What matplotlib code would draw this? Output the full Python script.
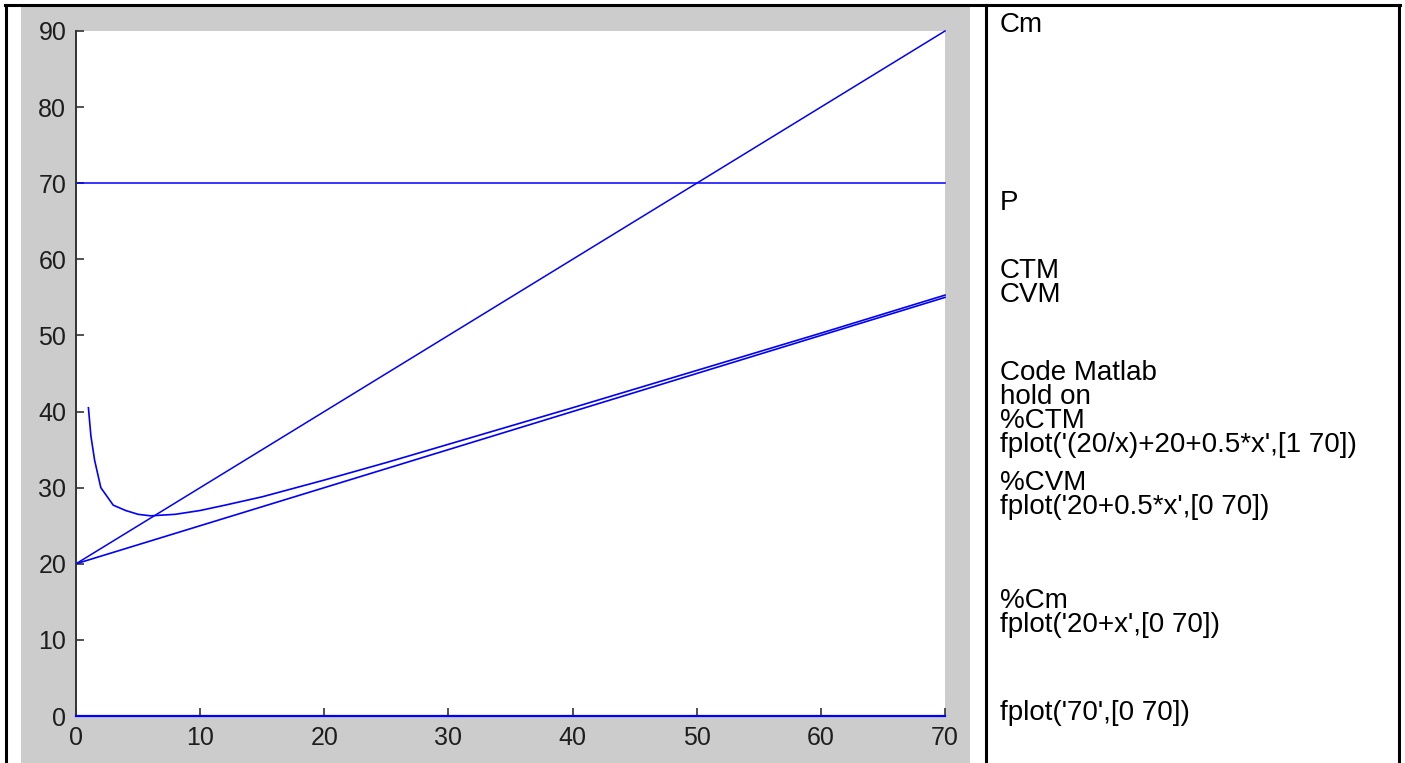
import numpy as np
import matplotlib.pyplot as plt
from matplotlib.patches import Rectangle
from matplotlib.lines import Line2D

# 数据：从图中读取
x_line = [0, 70]
cm_vals = [20, 90]          # Cm = 20 + x
p_vals = [70, 70]           # P = 70
cvm_vals = [20, 55]         # CVM = 20 + 0.5x
zero_vals = [0, 0]          # 底部的线

# CTM 曲线（fplot 采样点，读图估计）
ctm_x = [1, 1.2, 1.5, 2, 3, 4, 5, 6, 7, 8, 10, 12, 15, 20, 25, 30, 35, 40, 50, 60, 70]
ctm_y = [40.5, 36.8, 33.6, 30.0, 27.7, 27.0, 26.5, 26.3, 26.4, 26.5, 27.0, 27.7, 28.8,
         31.0, 33.3, 35.7, 38.1, 40.5, 45.4, 50.3, 55.3]

x_ticks = [0, 10, 20, 30, 40, 50, 60, 70]
y_ticks = [0, 10, 20, 30, 40, 50, 60, 70, 80, 90]

# 右侧文字
text_lines = ["Cm", "P", "CTM", "CVM", "Code Matlab", "hold on", "%CTM",
              "fplot('(20/x)+20+0.5*x',[1 70])", "%CVM", "fplot('20+0.5*x',[0 70])",
              "%Cm", "fplot('20+x',[0 70])", "fplot('70',[0 70])"]
text_y = [22, 200, 268, 292, 370, 394, 418, 442, 480, 504, 598, 622, 710]

W, H = 1405, 763
fig = plt.figure(figsize=(W / 100, H / 100), dpi=100, facecolor='white')


def fx(px):
    return px / W


def fy(py):
    return 1 - py / H


# 灰色背景（MATLAB 窗口）
fig.patches.append(Rectangle((fx(21), 0), fx(970) - fx(21), fy(6), transform=fig.transFigure,
                             facecolor='#cccccc', edgecolor='none', zorder=-10))

# 表格边框
for (x0, y0, x1, y1) in [(5, 5, 1400, 5), (6, 5, 6, 763), (1399, 5, 1399, 763), (986, 5, 986, 763)]:
    fig.lines.append(Line2D([fx(x0), fx(x1)], [fy(y0), fy(y1)], transform=fig.transFigure,
                            color='black', linewidth=2.2, zorder=5))

ax = fig.add_axes([fx(76), fy(716), fx(945) - fx(76), fy(31) - fy(716)])
ax.set_zorder(1)
ax.set_facecolor('white')

blue = '#0000ff'
ax.plot(x_line, cm_vals, color=blue, lw=1.1, clip_on=False)
ax.plot(x_line, p_vals, color=blue, lw=1.1, clip_on=False)
ax.plot(x_line, cvm_vals, color=blue, lw=1.2, clip_on=False)
ax.plot(ctm_x, ctm_y, color=blue, lw=1.2, clip_on=False)
ax.plot(x_line, zero_vals, color=blue, lw=1.6, clip_on=False, zorder=5)

ax.set_xlim(0, 70)
ax.set_ylim(0, 90)
ax.set_xticks(x_ticks)
ax.set_yticks(y_ticks)
ax.spines['top'].set_visible(False)
ax.spines['right'].set_visible(False)
for s in ['left', 'bottom']:
    ax.spines[s].set_color('#333333')
    ax.spines[s].set_linewidth(1.4)
ax.tick_params(direction='in', length=6, width=1.2, color='#333333',
               labelsize=18, labelcolor='#1e1e1e', pad=7)
for lab in ax.get_xticklabels() + ax.get_yticklabels():
    lab.set_fontfamily('Liberation Sans')

# 右侧文字
fs = 20
for t, yc in zip(text_lines, text_y):
    fig.text(fx(1000), fy(yc + 0.36 * fs * 100 / 72), t, fontsize=fs, family='Liberation Sans',
             color='black', ha='left', va='baseline')

fig.savefig('out.png', dpi=100, facecolor='white')
